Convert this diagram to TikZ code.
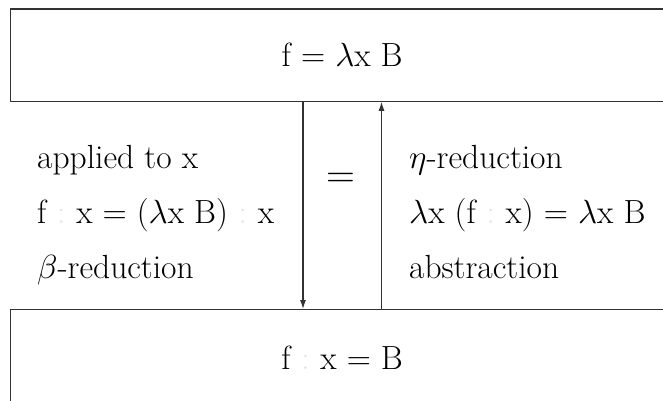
\RequirePackage{fix-cm}
\documentclass[tikz,border=0pt]{standalone}
\usetikzlibrary{arrows.meta}
\newcommand{\fcol}{\hspace{0.32em}\textcolor{black!10}{:}\hspace{0.32em}}
\begin{document}
\begin{tikzpicture}[x=1pt,y=1pt,
  box/.style={draw=black!80, line width=1.3pt, minimum width=664pt, anchor=north west, inner sep=0pt, font=\fontsize{33.5}{40}\selectfont},
  lbl/.style={anchor=base west, inner sep=0pt, font=\fontsize{33.5}{40}\selectfont},
  arr/.style={draw=black!80, line width=1.1pt, -{Latex[length=9pt,width=6pt]}}]
\useasboundingbox (0,0) rectangle (663,400);
\node[box, minimum height=92pt] (top) at (9.5,391.5) {f = $\lambda$x B};
\node[box, minimum height=96pt] (bot) at (9.5,91) {f\fcol x = B};
\coordinate (dn) at (303,0);
\coordinate (up) at (381.5,0);
\draw[arr] (top.south -| dn) -- (bot.north -| dn);
\draw[arr] (bot.north -| up) -- (top.south -| up);
\node[lbl] (l1) at (37,232) {applied to x};
\node[lbl] (l2) at (37,177) {f\fcol x = ($\lambda$x B)\fcol x};
\node[lbl] (l3) at (37,122) {$\beta$-reduction};
\node[lbl] (r1) at (409,232) {$\eta$-reduction};
\node[lbl] (r2) at (409,177) {$\lambda$x (f\fcol x) = $\lambda$x B};
\node[lbl] (r3) at (409,122) {abstraction};
\node[font=\fontsize{40}{44}\selectfont, inner sep=0pt] (eq) at (340.5,220) {$=$};
\end{tikzpicture}
\end{document}
